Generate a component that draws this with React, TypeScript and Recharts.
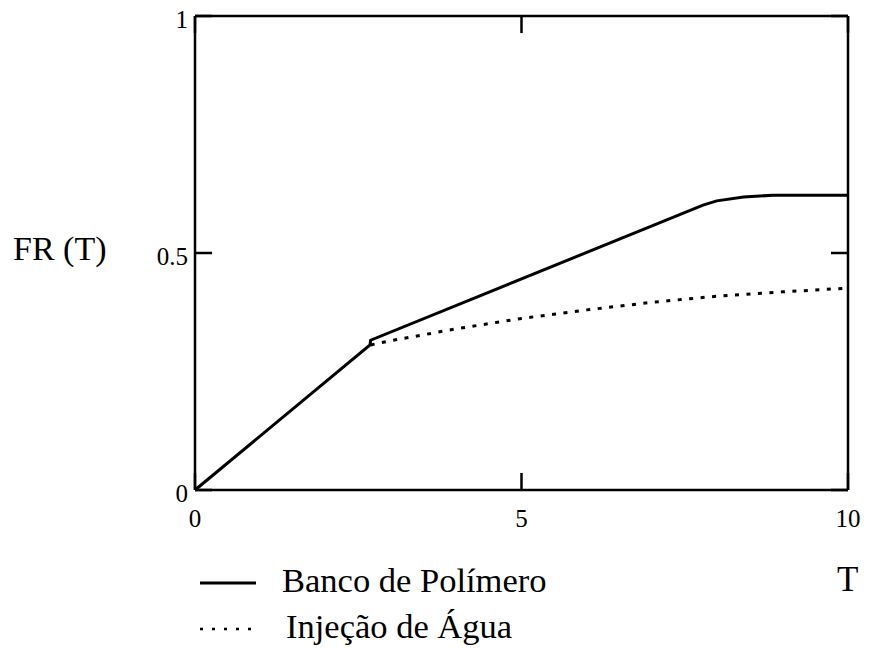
import React from "react";
import { LineChart, Line, XAxis, YAxis, ReferenceLine } from "recharts";

// FR(T) curves for the two recovery cases
const polymerT = [0, 2.68, 2.69, 7.78, 7.99, 8.4, 8.85, 10];
const polymerFR = [0, 0.306, 0.316, 0.601, 0.61, 0.618, 0.622, 0.622];

const waterT = [2.69, 3, 4, 5, 6, 7, 8, 9, 10];
const waterFR = [0.306, 0.315, 0.34, 0.362, 0.38, 0.396, 0.409, 0.418, 0.426];

const xTicks = [0, 5, 10];
const yTicks = [0, 0.5, 1];

const seriesNames = ["Banco de Polímero", "Injeção de Água"];

const polymerData = polymerT.map((t, i) => ({ t, fr: polymerFR[i] }));
const waterData = waterT.map((t, i) => ({ t, fr: waterFR[i] }));

const W = 870;
const H = 649;
const serif = "Liberation Serif, DejaVu Serif, serif";

// inward tick lengths in data units (about 17px)
const xTickLen = 0.036;
const yTickLen = 0.26;

const frame = { stroke: "#000", strokeWidth: 2.5 };

function LegendBox() {
  return (
    <div
      style={{
        position: "absolute",
        left: 198,
        top: 557,
        fontFamily: serif,
        fontSize: 34.5,
        color: "#000",
      }}
    >
      {seriesNames.map((name, i) => (
        <div
          key={name}
          style={{ display: "flex", alignItems: "center", height: 46 }}
        >
          <svg
            width={60}
            height={10}
            style={{
              marginRight: i === 0 ? 24 : 28,
              position: "relative",
              top: 3,
            }}
          >
            <line
              x1={2}
              x2={58}
              y1={5}
              y2={5}
              stroke="#000"
              strokeWidth={i === 0 ? 3 : 2.5}
              strokeDasharray={i === 0 ? undefined : "3 9"}
            />
          </svg>
          <span>{name}</span>
        </div>
      ))}
    </div>
  );
}

export default function App() {
  const tickStyle = { fill: "#000", fontSize: 25, fontFamily: serif };
  return (
    <div
      style={{
        position: "absolute",
        left: 0,
        top: 0,
        width: W,
        height: H,
        background: "#fff",
      }}
    >
      <LineChart
        width={W}
        height={H}
        margin={{ top: 15, right: 21, left: 135, bottom: 129 }}
      >
        <XAxis
          xAxisId="b"
          dataKey="t"
          type="number"
          domain={[0, 10]}
          ticks={xTicks}
          allowDuplicatedCategory={false}
          tickLine={false}
          tickSize={4}
          tickMargin={15}
          axisLine={frame}
          tick={tickStyle}
          height={30}
        />
        <XAxis
          xAxisId="t"
          orientation="top"
          type="number"
          domain={[0, 10]}
          tick={false}
          tickLine={false}
          axisLine={frame}
          height={1}
        />
        <YAxis
          yAxisId="l"
          type="number"
          domain={[0, 1]}
          ticks={yTicks}
          tickLine={false}
          tickSize={2}
          tickMargin={5}
          axisLine={frame}
          tick={{ ...tickStyle, dy: 3 }}
          tickFormatter={(v: number) => String(v)}
          width={60}
        />
        <YAxis
          yAxisId="r"
          orientation="right"
          type="number"
          domain={[0, 1]}
          tick={false}
          tickLine={false}
          axisLine={frame}
          width={1}
        />

        {/* inward ticks on all four sides */}
        {xTicks.map((v) => (
          <ReferenceLine
            key={"xb" + v}
            xAxisId="b"
            yAxisId="l"
            segment={[
              { x: v, y: 0 },
              { x: v, y: xTickLen },
            ]}
            {...frame}
            ifOverflow="visible"
          />
        ))}
        {xTicks.map((v) => (
          <ReferenceLine
            key={"xt" + v}
            xAxisId="b"
            yAxisId="l"
            segment={[
              { x: v, y: 1 },
              { x: v, y: 1 - xTickLen },
            ]}
            {...frame}
            ifOverflow="visible"
          />
        ))}
        {yTicks.map((v) => (
          <ReferenceLine
            key={"yl" + v}
            xAxisId="b"
            yAxisId="l"
            segment={[
              { x: 0, y: v },
              { x: yTickLen, y: v },
            ]}
            {...frame}
            ifOverflow="visible"
          />
        ))}
        {yTicks.map((v) => (
          <ReferenceLine
            key={"yr" + v}
            xAxisId="b"
            yAxisId="l"
            segment={[
              { x: 10, y: v },
              { x: 10 - yTickLen, y: v },
            ]}
            {...frame}
            ifOverflow="visible"
          />
        ))}

        <Line
          xAxisId="b"
          yAxisId="l"
          data={polymerData}
          dataKey="fr"
          name={seriesNames[0]}
          type="linear"
          stroke="#000"
          strokeWidth={3}
          dot={false}
          isAnimationActive={false}
        />
        <Line
          xAxisId="b"
          yAxisId="l"
          data={waterData}
          dataKey="fr"
          name={seriesNames[1]}
          type="linear"
          stroke="#000"
          strokeWidth={3}
          strokeDasharray="4 7.5"
          dot={false}
          isAnimationActive={false}
        />
      </LineChart>

      <LegendBox />

      <div
        style={{
          position: "absolute",
          left: 13,
          top: 229,
          fontFamily: serif,
          fontSize: 34,
          lineHeight: "40px",
          color: "#000",
          whiteSpace: "nowrap",
        }}
      >
        FR (T)
      </div>
      <div
        style={{
          position: "absolute",
          left: 837,
          top: 560,
          fontFamily: serif,
          fontSize: 35,
          lineHeight: "40px",
          color: "#000",
        }}
      >
        T
      </div>
    </div>
  );
}
